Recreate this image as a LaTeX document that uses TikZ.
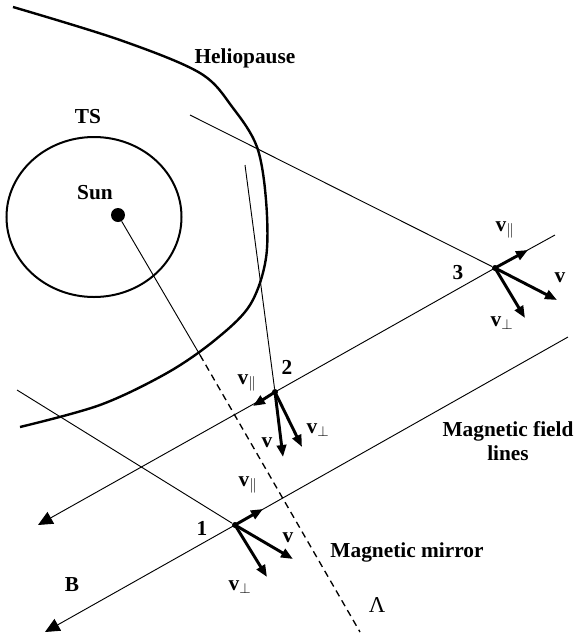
\documentclass[tikz,border=0pt]{standalone}
\usepackage{fontspec}
\setmainfont{Liberation Serif}
\usetikzlibrary{arrows.meta}

\begin{document}
\begin{tikzpicture}[x=0.75pt,y=-0.75pt,
  lbl/.style={font=\fontsize{16}{18}\selectfont\bfseries},
  thin line/.style={line width=0.7pt},
  field/.style={line width=0.7pt,-{Triangle[length=11pt,width=10pt]}},
  vel/.style={line width=2.2pt,-{Triangle[length=9pt,width=7pt]}},
  dot/.style={circle,fill,inner sep=0pt,minimum size=4.5pt}]
\useasboundingbox (0,0) rectangle (579,637);
% boundaries
\draw[line width=1.8pt] plot[smooth,tension=0.55] coordinates {(13,7) (120,40) (200,73) (233,108) (257,147) (266,200) (266,258) (250,305) (215,340) (167,373) (100,405) (20,427)};
\draw[line width=1.5pt] (94,217) ellipse [x radius=87.5,y radius=80];
\node[lbl] at (245,58) {Heliopause};
\node[lbl] at (88,117) {TS};
\node[lbl] (sunlbl) at (95,193) {Sun};
\node[circle,fill,inner sep=0pt,minimum size=10.5pt] (sun) at (118,215) {};
% field lines
\node[dot] (p1) at (235,525) {};
\node[dot] (p2) at (275,392) {};
\node[dot] (p3) at (495,268) {};
\coordinate (fa) at (555,235);
\coordinate (fb) at (568,337);
\coordinate (ea) at (38,525);
\coordinate (eb) at (45,632);
\draw[field] (fa) -- (p3.center) -- (p2.center) -- (ea);
\draw[field] (fb) -- (p1.center) -- (eb);
% lines of sight
\coordinate (s3) at (190,115);
\coordinate (s2) at (245,165);
\coordinate (s1) at (17,390);
\draw[thin line] (s3) -- (p3);
\draw[thin line] (s2) -- (p2);
\draw[thin line] (s1) -- (p1);
% magnetic mirror
\coordinate (hp) at (200,355);
\coordinate (me) at (360,632);
\draw[thin line] (sun) -- (hp);
\draw[line width=1pt,dash pattern=on 5pt off 3.5pt] (hp) -- (me);
% velocities
\draw[vel] (p1.center) -- (263,509);
\draw[vel] (p1.center) -- (293,559);
\draw[vel] (p1.center) -- (267,577);
\draw[vel] (p2.center) -- (253,406);
\draw[vel] (p2.center) -- (283,457);
\draw[vel] (p2.center) -- (302,447);
\draw[vel] (p3.center) -- (528,250);
\draw[vel] (p3.center) -- (557,300);
\draw[vel] (p3.center) -- (525,318);
\node[lbl] at (202,528) {1};
\node[lbl] at (287,367) {2};
\node[lbl] at (458,273) {3};
\node[lbl] at (248,485) {v$_{\|}$};
\node[lbl] at (288,538) {v};
\node[lbl] at (240,587) {v$_{\perp}$};
\node[lbl] at (247,383) {v$_{\|}$};
\node[lbl] at (267,443) {v};
\node[lbl] at (318,430) {v$_{\perp}$};
\node[lbl] at (505,230) {v$_{\|}$};
\node[lbl] at (560,278) {v};
\node[lbl] at (502,323) {v$_{\perp}$};
% captions
\node[lbl,align=center] at (508,441) {Magnetic field\\lines};
\node[lbl] at (407,552) {Magnetic mirror};
\node[lbl] at (72,585) {B};
\node[font=\fontsize{17}{19}\selectfont] at (377,605) {Λ};
\end{tikzpicture}
\end{document}
